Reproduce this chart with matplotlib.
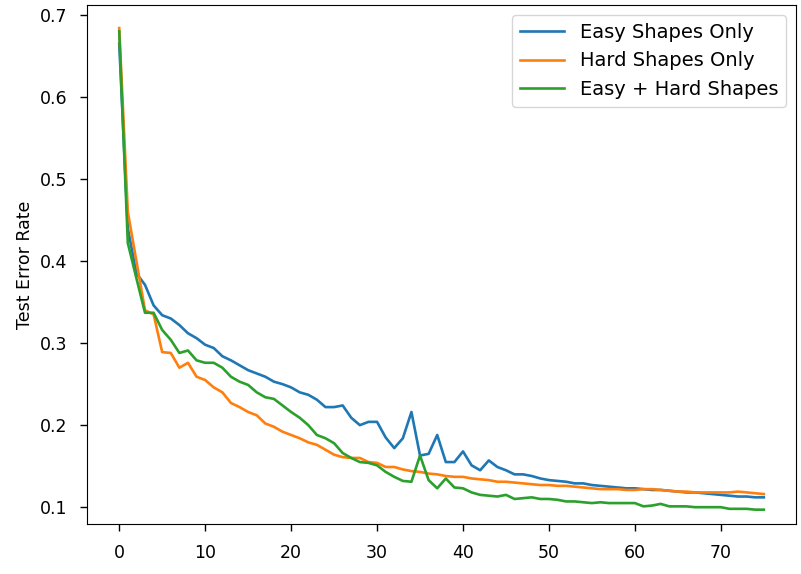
import matplotlib
matplotlib.use('Agg')
import matplotlib.pyplot as plt

epochs = list(range(76))

easy = [0.665, 0.440, 0.385, 0.371, 0.346, 0.334, 0.330, 0.322, 0.312, 0.306,
        0.298, 0.294, 0.284, 0.279, 0.273, 0.267, 0.263, 0.259, 0.253, 0.250,
        0.246, 0.240, 0.237, 0.231, 0.222, 0.222, 0.224, 0.209, 0.200, 0.204,
        0.204, 0.185, 0.172, 0.184, 0.216, 0.163, 0.165, 0.188, 0.155, 0.155,
        0.168, 0.151, 0.145, 0.157, 0.149, 0.145, 0.140, 0.140, 0.138, 0.135,
        0.133, 0.132, 0.131, 0.129, 0.129, 0.127, 0.126, 0.125, 0.124, 0.123,
        0.123, 0.122, 0.121, 0.121, 0.120, 0.119, 0.118, 0.118, 0.117, 0.116,
        0.115, 0.114, 0.113, 0.113, 0.112, 0.112]

hard = [0.684, 0.460, 0.400, 0.340, 0.335, 0.289, 0.288, 0.270, 0.276, 0.259,
        0.255, 0.246, 0.240, 0.227, 0.222, 0.216, 0.212, 0.202, 0.198, 0.192,
        0.188, 0.184, 0.179, 0.176, 0.170, 0.164, 0.161, 0.160, 0.160, 0.155,
        0.154, 0.149, 0.149, 0.146, 0.144, 0.143, 0.141, 0.140, 0.138, 0.137,
        0.137, 0.135, 0.134, 0.133, 0.131, 0.131, 0.130, 0.129, 0.128, 0.127,
        0.127, 0.126, 0.126, 0.125, 0.124, 0.123, 0.122, 0.122, 0.122, 0.121,
        0.121, 0.122, 0.122, 0.121, 0.120, 0.119, 0.119, 0.118, 0.118, 0.118,
        0.118, 0.118, 0.119, 0.118, 0.117, 0.116]

both = [0.680, 0.422, 0.379, 0.337, 0.337, 0.316, 0.304, 0.288, 0.291, 0.279,
        0.276, 0.276, 0.270, 0.259, 0.253, 0.249, 0.240, 0.234, 0.232, 0.224,
        0.216, 0.209, 0.200, 0.188, 0.184, 0.178, 0.166, 0.160, 0.155, 0.154,
        0.151, 0.143, 0.137, 0.132, 0.131, 0.163, 0.133, 0.123, 0.135, 0.124,
        0.123, 0.118, 0.115, 0.114, 0.113, 0.115, 0.110, 0.111, 0.112, 0.110,
        0.110, 0.109, 0.107, 0.107, 0.106, 0.105, 0.106, 0.105, 0.105, 0.105,
        0.105, 0.101, 0.102, 0.104, 0.101, 0.101, 0.101, 0.100, 0.100, 0.100,
        0.100, 0.098, 0.098, 0.098, 0.097, 0.097]

plt.rcParams['font.size'] = 12.5

fig = plt.figure(figsize=(8.01, 5.74), dpi=100)
ax = fig.add_axes([0.1086, 0.0871, 0.8852, 0.9040])
ax.plot(epochs, easy, label='Easy Shapes Only', color='#1f77b4', linewidth=1.9)
ax.plot(epochs, hard, label='Hard Shapes Only', color='#ff7f0e', linewidth=1.9)
ax.plot(epochs, both, label='Easy + Hard Shapes', color='#2ca02c', linewidth=1.9)
ax.set_ylim(0.0795, 0.712)
ax.tick_params(length=4.75, width=1.0, pad=9.5)
ax.set_ylabel('Test Error Rate')
ax.legend(loc='upper right', fontsize=14, handlelength=2.3)

fig.savefig('out.png', dpi=100)
